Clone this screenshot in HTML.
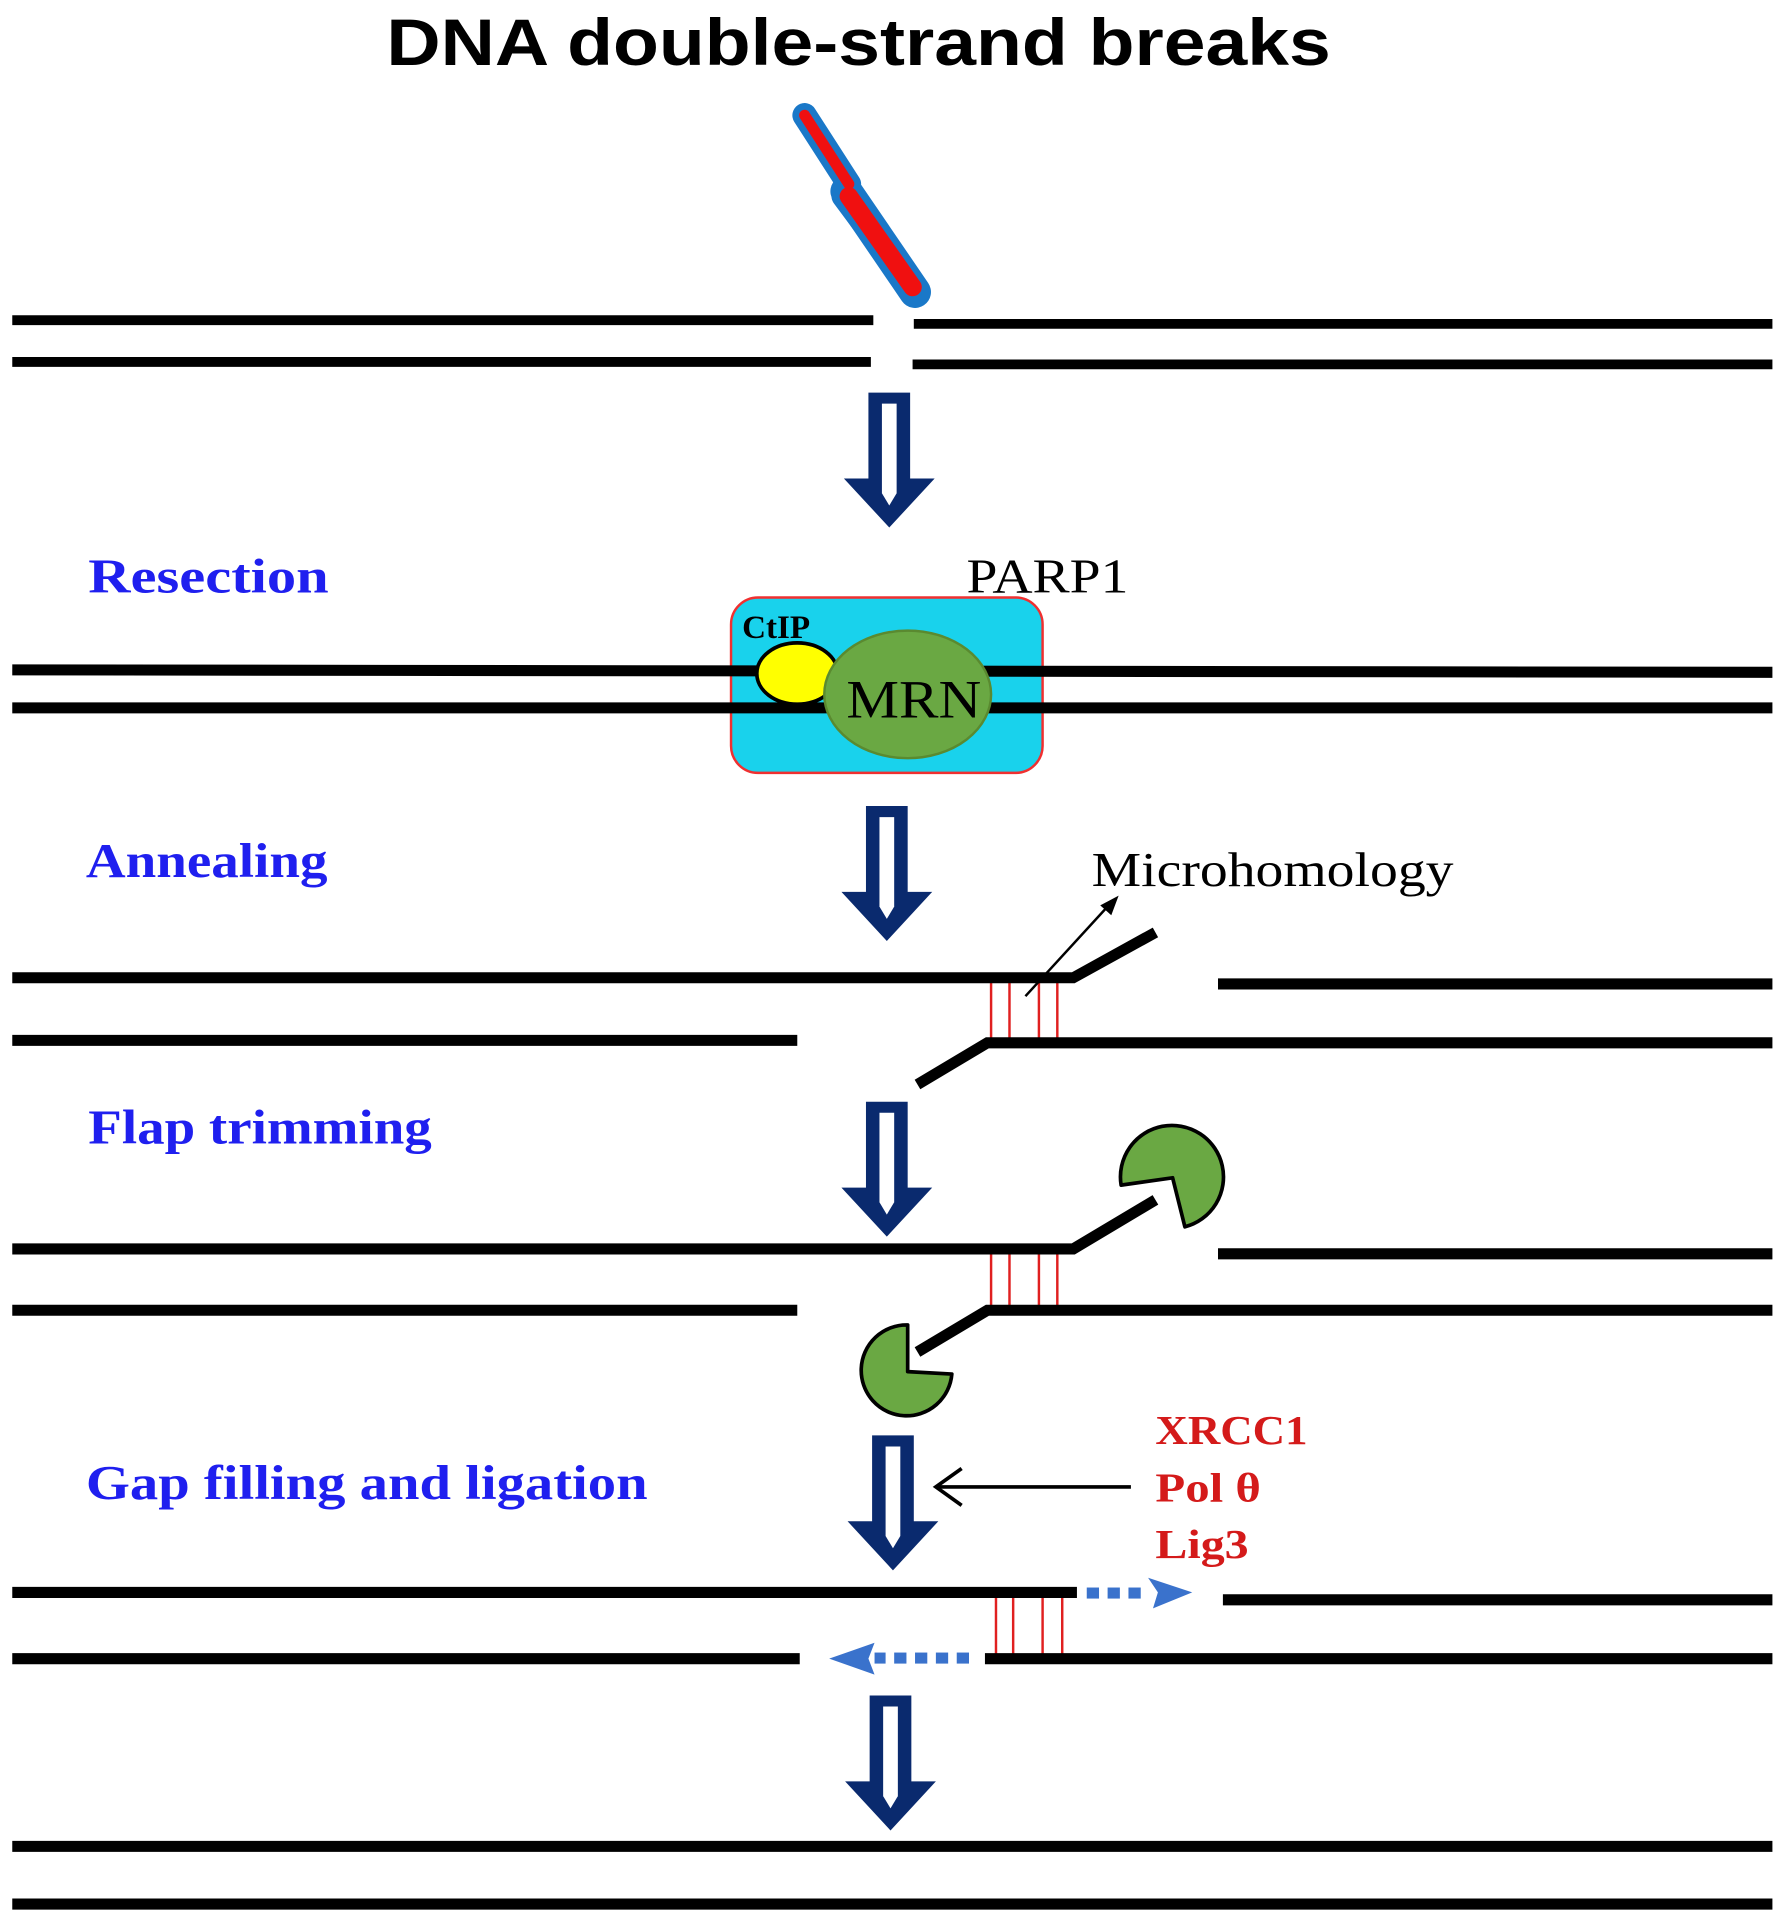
<!DOCTYPE html>
<html><head><meta charset="utf-8"><style>
html,body{margin:0;padding:0;background:#fff;}
svg{display:block;}
</style></head><body>
<svg width="1781" height="1920" viewBox="0 0 1452 1565" preserveAspectRatio="none" xmlns="http://www.w3.org/2000/svg">
<defs>
<g id="harrow">
<path d="M-17,0 H17 V70 H37 L0,110 L-37,70 H-17 Z" fill="#0a2a6e"/>
<path d="M-6,9 H6 V82 L0,92 L-6,82 Z" fill="#fff"/>
</g>
</defs>
<text x="315" y="53" textLength="770" lengthAdjust="spacingAndGlyphs" font-family="Liberation Sans, sans-serif" font-weight="bold" font-size="54">DNA double-strand breaks</text>
<!-- knife -->
<path d="M656,94 L692,150 L688,160 L746,238" stroke="#1a78c8" stroke-width="20" stroke-linecap="round" stroke-linejoin="round" fill="none"/>
<path d="M690,156 L746,238" stroke="#1a78c8" stroke-width="26" stroke-linecap="round" fill="none"/>
<path d="M656,94 L692,150" stroke="#f01010" stroke-width="9" stroke-linecap="round" fill="none"/>
<path d="M692,160 L744,234" stroke="#f01010" stroke-width="15" stroke-linecap="round" fill="none"/>
<g stroke="#000" stroke-width="8" fill="none">
<line x1="10" y1="261" x2="712" y2="261"/><line x1="745" y1="264" x2="1445" y2="264"/>
<line x1="10" y1="295" x2="710" y2="295"/><line x1="744" y1="297" x2="1445" y2="297"/>
</g>
<use href="#harrow" x="725" y="320"/>
<text x="72" y="483" textLength="196" lengthAdjust="spacingAndGlyphs" font-family="Liberation Serif, serif" font-weight="bold" font-size="40" fill="#1f1fef">Resection</text>
<text x="788" y="483" textLength="132" lengthAdjust="spacingAndGlyphs" font-family="Liberation Serif, serif" font-size="40" fill="#000">PARP1</text>
<rect x="596" y="487" width="254" height="143" rx="22" fill="#19d2ec" stroke="#f03030" stroke-width="2"/>
<g stroke="#000" stroke-width="9">
<line x1="10" y1="546" x2="1445" y2="548"/><line x1="10" y1="577" x2="1445" y2="577"/>
</g>
<ellipse cx="650" cy="549" rx="33" ry="25" fill="#ffff00" stroke="#000" stroke-width="3"/>
<text x="605" y="520" font-family="Liberation Serif, serif" font-weight="bold" font-size="27" fill="#000">CtIP</text>
<ellipse cx="740" cy="566" rx="68" ry="52" fill="#6aa843" stroke="#5a8a30" stroke-width="2"/>
<text x="690" y="585" textLength="110" lengthAdjust="spacingAndGlyphs" font-family="Liberation Serif, serif" font-size="44" fill="#000">MRN</text>
<use href="#harrow" x="723" y="657"/>
<text x="70" y="715" textLength="197" lengthAdjust="spacingAndGlyphs" font-family="Liberation Serif, serif" font-weight="bold" font-size="40" fill="#1f1fef">Annealing</text>
<text x="890" y="722" textLength="295" lengthAdjust="spacingAndGlyphs" font-family="Liberation Serif, serif" font-size="40" fill="#000">Microhomology</text>
<!-- row3 -->
<g stroke="#e02020" stroke-width="2">
<line x1="808" y1="800" x2="808" y2="846"/><line x1="823" y1="800" x2="823" y2="846"/><line x1="847" y1="800" x2="847" y2="846"/><line x1="862" y1="800" x2="862" y2="846"/>
</g>
<g stroke="#000" stroke-width="9" fill="none">
<polyline points="10,797 875,797 942,760"/><line x1="993" y1="802" x2="1445" y2="802"/>
<line x1="10" y1="848" x2="650" y2="848"/><polyline points="748,884 805,850 1445,850"/>
</g>
<line x1="836" y1="812" x2="902" y2="740" stroke="#000" stroke-width="2"/>
<path d="M912,730 L897,738 L906,746 Z" fill="#000"/>
<use href="#harrow" x="723" y="898"/>
<text x="72" y="932" textLength="280" lengthAdjust="spacingAndGlyphs" font-family="Liberation Serif, serif" font-weight="bold" font-size="40" fill="#1f1fef">Flap  trimming</text>
<!-- row4 -->
<g stroke="#e02020" stroke-width="2">
<line x1="808" y1="1021" x2="808" y2="1066"/><line x1="823" y1="1021" x2="823" y2="1066"/><line x1="847" y1="1021" x2="847" y2="1066"/><line x1="862" y1="1021" x2="862" y2="1066"/>
</g>
<g stroke="#000" stroke-width="9" fill="none">
<polyline points="10,1018 875,1018 942,978"/><line x1="993" y1="1022" x2="1445" y2="1022"/>
<line x1="10" y1="1068" x2="650" y2="1068"/><polyline points="748,1102 805,1068 1445,1068"/>
</g>
<path d="M956,960 L914,966 A42,42 0 1,1 966,1000 Z" fill="#6aa843" stroke="#000" stroke-width="3" stroke-linejoin="round"/>
<path d="M740,1118 L740,1080 A37,37 0 1,0 776,1120 Z" fill="#6aa843" stroke="#000" stroke-width="3" stroke-linejoin="round"/>
<use href="#harrow" x="728" y="1170"/>
<text x="70" y="1222" textLength="458" lengthAdjust="spacingAndGlyphs" font-family="Liberation Serif, serif" font-weight="bold" font-size="40" fill="#1f1fef">Gap  filling  and  ligation</text>
<g font-family="Liberation Serif, serif" font-weight="bold" font-size="34" fill="#d41a1a">
<text x="942" y="1177" textLength="124" lengthAdjust="spacingAndGlyphs">XRCC1</text><text x="942" y="1224" textLength="86" lengthAdjust="spacingAndGlyphs">Pol θ</text><text x="942" y="1270" textLength="76" lengthAdjust="spacingAndGlyphs">Lig3</text>
</g>
<line x1="922" y1="1212" x2="764" y2="1212" stroke="#000" stroke-width="3"/>
<polyline points="784,1197 763,1212 784,1227" fill="none" stroke="#000" stroke-width="3"/>
<!-- row5 -->
<g stroke="#e02020" stroke-width="2">
<line x1="812" y1="1301" x2="812" y2="1350"/><line x1="826" y1="1301" x2="826" y2="1350"/><line x1="850" y1="1301" x2="850" y2="1350"/><line x1="866" y1="1301" x2="866" y2="1350"/>
</g>
<g stroke="#000" stroke-width="9" fill="none">
<line x1="10" y1="1298" x2="878" y2="1298"/><line x1="997" y1="1304" x2="1445" y2="1304"/>
<line x1="10" y1="1352" x2="652" y2="1352"/><line x1="803" y1="1352" x2="1445" y2="1352"/>
</g>
<g fill="#3a72cc">
<rect x="886" y="1294" width="10" height="9"/><rect x="903" y="1294" width="10" height="9"/><rect x="920" y="1294" width="10" height="9"/>
<path d="M936,1286 L972,1298 L940,1311 L944,1298 Z"/>
<rect x="780" y="1347" width="10" height="9"/><rect x="763" y="1347" width="10" height="9"/><rect x="746" y="1347" width="10" height="9"/><rect x="729" y="1347" width="10" height="9"/><rect x="713" y="1347" width="9" height="9"/>
<path d="M713,1339 L676,1352 L713,1365 L708,1352 Z"/>
</g>
<use href="#harrow" x="726" y="1382"/>
<g stroke="#000" stroke-width="9">
<line x1="10" y1="1505" x2="1445" y2="1505"/><line x1="10" y1="1552" x2="1445" y2="1552"/>
</g>
</svg>
</body></html>
